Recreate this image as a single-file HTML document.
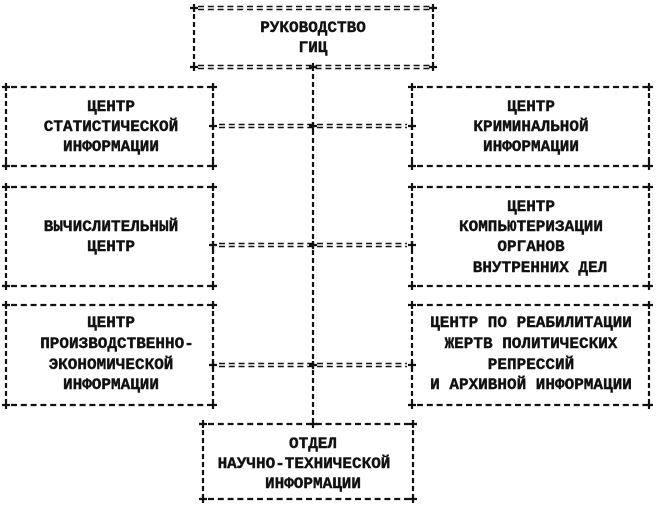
<!DOCTYPE html>
<html><head><meta charset="utf-8"><style>
html,body{margin:0;padding:0;background:#fff;}
svg{display:block}
text{font-family:"Liberation Mono","DejaVu Sans Mono",monospace;font-weight:bold;font-size:16px;fill:#111;text-anchor:middle;dominant-baseline:central;stroke:#111;stroke-width:0.4}
.h{stroke:#111;stroke-width:2.2;stroke-dasharray:6 3.8;fill:none}
.e{stroke:#111;stroke-width:1.6;stroke-dasharray:6 3.8;fill:none}
.v{stroke:#111;stroke-width:2.2;stroke-dasharray:5 3;fill:none}
.p{stroke:#111;stroke-width:2.2;fill:none}
</style></head><body>
<svg width="658" height="512" viewBox="0 0 658 512" xmlns="http://www.w3.org/2000/svg">
<defs>
<path id="pl" class="p" d="M-4 0H4M0 -4V4"/>
</defs>
<line class="e" x1="198" y1="6.5" x2="430" y2="6.5"/><line class="e" x1="198" y1="9.5" x2="430" y2="9.5"/>
<line class="e" x1="198" y1="65.5" x2="430" y2="65.5"/><line class="e" x1="198" y1="68.5" x2="430" y2="68.5"/>
<line class="v" x1="194" y1="14" x2="194" y2="63"/><line class="v" x1="433" y1="14" x2="433" y2="63"/>
<use href="#pl" x="194" y="8"/><use href="#pl" x="433" y="8"/><use href="#pl" x="194" y="67"/><use href="#pl" x="433" y="67"/><use href="#pl" x="313" y="67"/>
<text x="313" y="28">РУКОВОДСТВО</text><text x="313" y="48">ГИЦ</text>
<line class="v" x1="313" y1="74" x2="313" y2="420"/>
<g>
<line class="h" x1="11" y1="87" x2="209" y2="87"/><line class="h" x1="11" y1="166" x2="209" y2="166"/>
<line class="v" x1="6" y1="93" x2="6" y2="162"/><line class="v" x1="213" y1="93" x2="213" y2="162"/>
<use href="#pl" x="6" y="87"/><use href="#pl" x="213" y="87"/><use href="#pl" x="6" y="166"/><use href="#pl" x="213" y="166"/>
<text x="111" y="107">ЦЕНТР</text><text x="111" y="127">СТАТИСТИЧЕСКОЙ</text><text x="111" y="147">ИНФОРМАЦИИ</text>

<line class="h" x1="11" y1="187" x2="209" y2="187"/><line class="h" x1="11" y1="286" x2="209" y2="286"/>
<line class="v" x1="6" y1="193" x2="6" y2="282"/><line class="v" x1="213" y1="193" x2="213" y2="282"/>
<use href="#pl" x="6" y="187"/><use href="#pl" x="213" y="187"/><use href="#pl" x="6" y="286"/><use href="#pl" x="213" y="286"/>
<text x="111" y="227">ВЫЧИСЛИТЕЛЬНЫЙ</text><text x="111" y="247">ЦЕНТР</text>

<line class="h" x1="11" y1="305" x2="209" y2="305"/><line class="h" x1="11" y1="405" x2="209" y2="405"/>
<line class="v" x1="6" y1="311" x2="6" y2="401"/><line class="v" x1="213" y1="311" x2="213" y2="401"/>
<use href="#pl" x="6" y="305"/><use href="#pl" x="213" y="305"/><use href="#pl" x="6" y="405"/><use href="#pl" x="213" y="405"/>
<text x="111" y="323">ЦЕНТР</text><text x="117" y="344">ПРОИЗВОДСТВЕННО-</text><text x="111" y="365">ЭКОНОМИЧЕСКОЙ</text><text x="111" y="385">ИНФОРМАЦИИ</text>
</g>
<g>
<line class="h" x1="417" y1="87" x2="645" y2="87"/><line class="h" x1="417" y1="166" x2="645" y2="166"/>
<line class="v" x1="412" y1="93" x2="412" y2="162"/><line class="v" x1="649" y1="93" x2="649" y2="162"/>
<use href="#pl" x="412" y="87"/><use href="#pl" x="649" y="87"/><use href="#pl" x="412" y="166"/><use href="#pl" x="649" y="166"/>
<text x="531" y="107">ЦЕНТР</text><text x="531" y="127">КРИМИНАЛЬНОЙ</text><text x="531" y="147">ИНФОРМАЦИИ</text>

<line class="h" x1="417" y1="187" x2="645" y2="187"/><line class="h" x1="417" y1="286" x2="645" y2="286"/>
<line class="v" x1="412" y1="193" x2="412" y2="282"/><line class="v" x1="649" y1="193" x2="649" y2="282"/>
<use href="#pl" x="412" y="187"/><use href="#pl" x="649" y="187"/><use href="#pl" x="412" y="286"/><use href="#pl" x="649" y="286"/>
<text x="531" y="207">ЦЕНТР</text><text x="531" y="227">КОМПЬЮТЕРИЗАЦИИ</text><text x="531" y="247">ОРГАНОВ</text><text x="540" y="268">ВНУТРЕННИХ ДЕЛ</text>

<line class="h" x1="417" y1="305" x2="645" y2="305"/><line class="h" x1="417" y1="405" x2="645" y2="405"/>
<line class="v" x1="412" y1="311" x2="412" y2="401"/><line class="v" x1="649" y1="311" x2="649" y2="401"/>
<use href="#pl" x="412" y="305"/><use href="#pl" x="649" y="305"/><use href="#pl" x="412" y="405"/><use href="#pl" x="649" y="405"/>
<text x="531" y="323">ЦЕНТР ПО РЕАБИЛИТАЦИИ</text><text x="531" y="344">ЖЕРТВ ПОЛИТИЧЕСКИХ</text><text x="531" y="365">РЕПРЕССИЙ</text><text x="531" y="385">И АРХИВНОЙ ИНФОРМАЦИИ</text>
</g>
<g>
<line class="e" x1="219" y1="124.5" x2="407" y2="124.5"/><line class="e" x1="219" y1="127.5" x2="407" y2="127.5"/>
<use href="#pl" x="213" y="126"/><use href="#pl" x="313" y="126"/><use href="#pl" x="412" y="126"/>
<line class="e" x1="219" y1="243.5" x2="407" y2="243.5"/><line class="e" x1="219" y1="246.5" x2="407" y2="246.5"/>
<use href="#pl" x="213" y="245"/><use href="#pl" x="313" y="245"/><use href="#pl" x="412" y="245"/>
<line class="e" x1="219" y1="363.5" x2="407" y2="363.5"/><line class="e" x1="219" y1="366.5" x2="407" y2="366.5"/>
<use href="#pl" x="213" y="365"/><use href="#pl" x="313" y="365"/><use href="#pl" x="412" y="365"/>
</g>
<line class="h" x1="208" y1="424" x2="409" y2="424"/><line class="h" x1="208" y1="499" x2="409" y2="499"/>
<line class="v" x1="203" y1="430" x2="203" y2="495"/><line class="v" x1="413" y1="430" x2="413" y2="495"/>
<use href="#pl" x="203" y="424"/><use href="#pl" x="413" y="424"/><use href="#pl" x="203" y="499"/><use href="#pl" x="413" y="499"/><use href="#pl" x="313" y="424"/>
<text x="313" y="444">ОТДЕЛ</text><text x="304" y="464">НАУЧНО-ТЕХНИЧЕСКОЙ</text><text x="313" y="484">ИНФОРМАЦИИ</text>
</svg>
</body></html>
